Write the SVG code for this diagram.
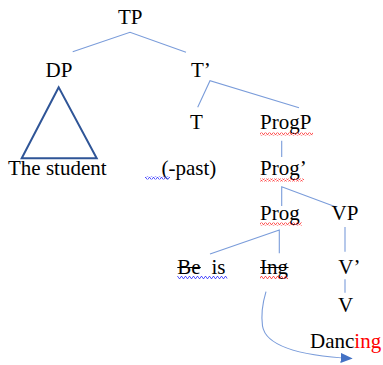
<svg xmlns="http://www.w3.org/2000/svg" width="383" height="365" viewBox="0 0 383 365">
  <style>
    .lbl { font-family: "Liberation Serif", "Times New Roman", serif; font-size: 21px; fill: #000; }
    .red { fill: #FF0000; }
    .edge { fill: none; stroke: #7A9CDA; stroke-width: 1.1; }
    .strike { stroke: #000; stroke-width: 1; }
  </style>
  <defs>
    <!-- spell-check style wavy underlines -->
    <pattern id="waveRed" width="4" height="3" patternUnits="userSpaceOnUse">
      <path d="M0,2.5 L1,0.5 L2,0.5 L3,2.5 L4,2.5" fill="none" stroke="#FF3030" stroke-width="0.8"/>
    </pattern>
    <pattern id="waveBlue" width="4" height="3" patternUnits="userSpaceOnUse">
      <path d="M0,2.5 L1,0.5 L2,0.5 L3,2.5 L4,2.5" fill="none" stroke="#3030FF" stroke-width="0.8"/>
    </pattern>
    <marker id="arrow" markerWidth="12" markerHeight="10" refX="11" refY="5" orient="auto" markerUnits="userSpaceOnUse">
      <path d="M0,0 L12,5 L0,10 Z" fill="#4472C4"/>
    </marker>
  </defs>

  <g id="connectors">
    <polyline class="edge" points="72.7,51.7 130,32.3 186,52.3"/>
    <polyline class="edge" points="197.7,107.3 210,80.7 299,107.7"/>
    <line class="edge" x1="281.7" y1="140.7" x2="281.7" y2="157"/>
    <polyline class="edge" points="281.7,206 281.7,186.7 336.7,207.3"/>
    <polyline class="edge" points="210,254 279.3,230 279.3,253.3"/>
    <line class="edge" x1="345" y1="227" x2="345" y2="251.7"/>
    <line class="edge" x1="345" y1="279.3" x2="345" y2="292.7"/>
    <path class="edge" d="M266,291.7 C262,305 261,315 262.5,326 C266,348 305,356 351.7,358.5" marker-end="url(#arrow)"/>
  </g>

  <g id="node-TP"><text class="lbl" x="118" y="24">TP</text></g>
  <g id="node-DP"><text class="lbl" x="45.5" y="77">DP</text></g>
  <g id="node-Tbar"><text class="lbl" x="191" y="77">T’</text></g>
  <g id="node-triangle">
    <polygon points="58.7,87.3 21.7,158.3 96.7,158.3" fill="none" stroke="#2F5597" stroke-width="2"/>
  </g>
  <g id="node-T"><text class="lbl" x="190" y="129">T</text></g>
  <g id="node-ProgP">
    <text class="lbl" x="260" y="129">ProgP</text>
    <rect x="260" y="132.5" width="53" height="3" fill="url(#waveRed)"/>
  </g>
  <g id="node-student"><text class="lbl" x="8" y="175">The student</text></g>
  <g id="node-past">
    <text class="lbl" x="161.5" y="175">(-past)</text>
    <rect x="145" y="176.5" width="25" height="3" fill="url(#waveBlue)"/>
  </g>
  <g id="node-Progbar">
    <text class="lbl" x="260" y="175">Prog’</text>
    <rect x="260" y="178.5" width="44" height="3" fill="url(#waveRed)"/>
  </g>
  <g id="node-Prog">
    <text class="lbl" x="260" y="220">Prog</text>
    <rect x="260" y="222.5" width="42" height="3" fill="url(#waveRed)"/>
  </g>
  <g id="node-VP"><text class="lbl" x="331.5" y="220">VP</text></g>
  <g id="node-Beis">
    <text class="lbl" x="177.3" y="274">Be</text>
    <text class="lbl" x="211.5" y="274">is</text>
    <line class="strike" x1="177.3" y1="267.5" x2="200.8" y2="267.5"/>
    <rect x="177.3" y="276" width="50" height="3" fill="url(#waveBlue)"/>
  </g>
  <g id="node-Ing">
    <text class="lbl" x="260" y="274">Ing</text>
    <line class="strike" x1="260" y1="267.5" x2="288.5" y2="267.5"/>
    <rect x="260" y="276" width="28" height="3" fill="url(#waveRed)"/>
  </g>
  <g id="node-Vbar"><text class="lbl" x="338.3" y="274">V’</text></g>
  <g id="node-V"><text class="lbl" x="338" y="311.5">V</text></g>
  <g id="node-Dancing"><text class="lbl" x="310" y="348.3">Danc<tspan class="red">ing</tspan></text></g>
</svg>
